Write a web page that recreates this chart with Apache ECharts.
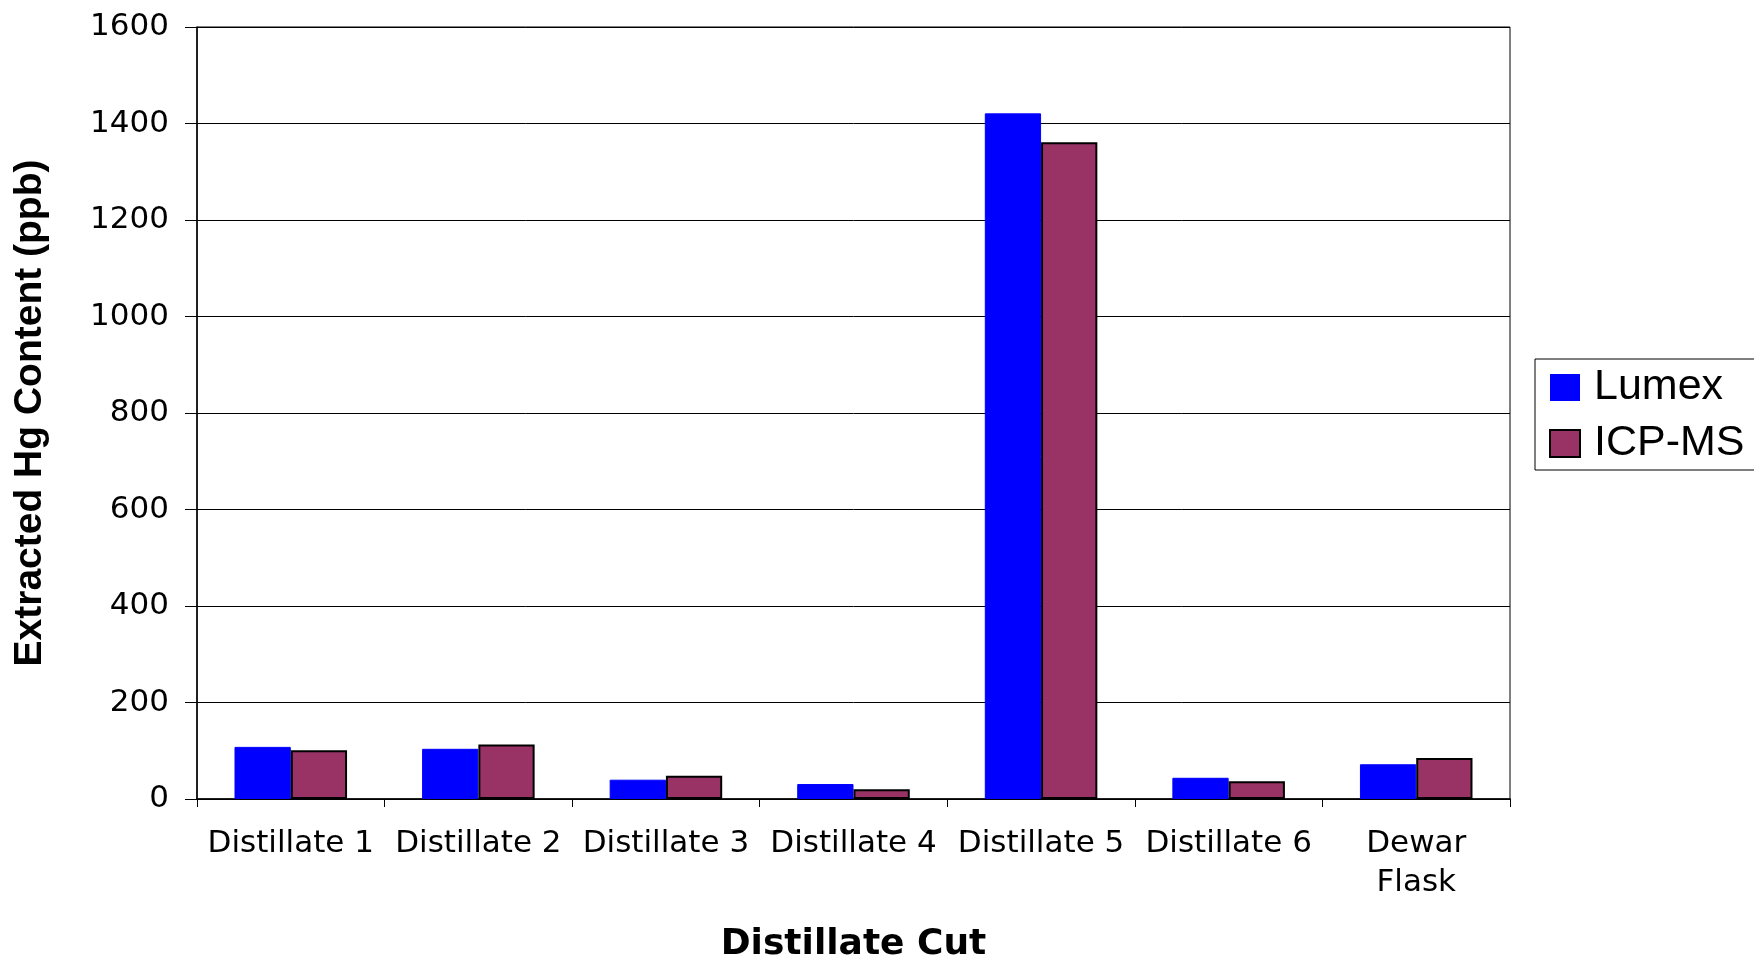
<!DOCTYPE html>
<html>
<head>
<meta charset="utf-8">
<script src="https://cdn.jsdelivr.net/npm/echarts@6/dist/echarts.min.js"></script>
<style>
  html, body { margin: 0; padding: 0; background: #fff; }
  #chart { width: 1754px; height: 958px; }
</style>
</head>
<body>
<div id="chart"></div>
<script>
// Extracted mercury content per distillate cut, two analysis methods
const categories = ['Distillate 1', 'Distillate 2', 'Distillate 3', 'Distillate 4', 'Distillate 5', 'Distillate 6', 'Dewar\nFlask'];
const lumex = [108, 104, 40, 31, 1421, 44, 72];
const icpms = [101, 113, 48, 20, 1361, 37, 85];
const yTicks = [0, 200, 400, 600, 800, 1000, 1200, 1400, 1600];

const chart = echarts.init(document.getElementById('chart'));
const wide = 'DejaVu Sans, Verdana, sans-serif';
const narrow = 'Liberation Sans, Arial, sans-serif';

chart.setOption({
  animation: false,
  backgroundColor: '#fff',
  grid: {
    left: 197, right: 244, top: 27, bottom: 159,
    outerBoundsMode: 'none',
    containLabel: false,
    show: true, borderColor: '#000', borderWidth: 1, backgroundColor: 'transparent'
  },
  legend: {
    left: 1535, top: 359,
    orient: 'vertical',
    itemWidth: 30, itemHeight: 27, itemGap: 13,
    padding: [7, 14, 5, 14],
    borderColor: '#000', borderWidth: 1,
    icon: 'rect',
    textStyle: { fontFamily: narrow, fontSize: 43, color: '#000', padding: [0, 0, 0, 9] },
    data: [
      { name: 'Lumex', itemStyle: { borderWidth: 0 } },
      { name: 'ICP-MS', itemStyle: { borderColor: '#000', borderWidth: 2 } }
    ]
  },
  xAxis: {
    type: 'category',
    data: categories,
    name: 'Distillate Cut',
    nameLocation: 'middle',
    nameGap: 128,
    nameTextStyle: { fontFamily: wide, fontSize: 36, fontWeight: 'bold', color: '#000' },
    axisLine: { lineStyle: { color: '#000', width: 1.5 } },
    axisTick: { show: true, length: 8, lineStyle: { color: '#000' } },
    axisLabel: { fontFamily: wide, fontSize: 31, color: '#000', margin: 25, lineHeight: 39, interval: 0 }
  },
  yAxis: {
    type: 'value',
    min: 0, max: 1600, interval: 200,
    name: 'Extracted Hg Content (ppb)',
    nameLocation: 'middle',
    nameGap: 147,
    nameRotate: 90,
    nameTextStyle: { fontFamily: narrow, fontSize: 39, fontWeight: 'bold', color: '#000' },
    axisLine: { show: true, lineStyle: { color: '#000', width: 1.5 } },
    axisTick: { show: true, length: 12, lineStyle: { color: '#000' } },
    axisLabel: {
      fontFamily: wide, fontSize: 31, color: '#000', margin: 28,
      formatter: v => (yTicks.includes(v) ? String(v) : '')
    },
    splitLine: { show: true, lineStyle: { color: '#000', width: 1 } }
  },
  series: [
    {
      name: 'Lumex', type: 'bar', data: lumex,
      barGap: '0%', barCategoryGap: '40%',
      itemStyle: { color: '#0000FF', borderColor: '#0000FF', borderWidth: 1 }
    },
    {
      name: 'ICP-MS', type: 'bar', data: icpms,
      itemStyle: { color: '#993366', borderColor: '#000', borderWidth: 2 }
    }
  ]
});
</script>
</body>
</html>
